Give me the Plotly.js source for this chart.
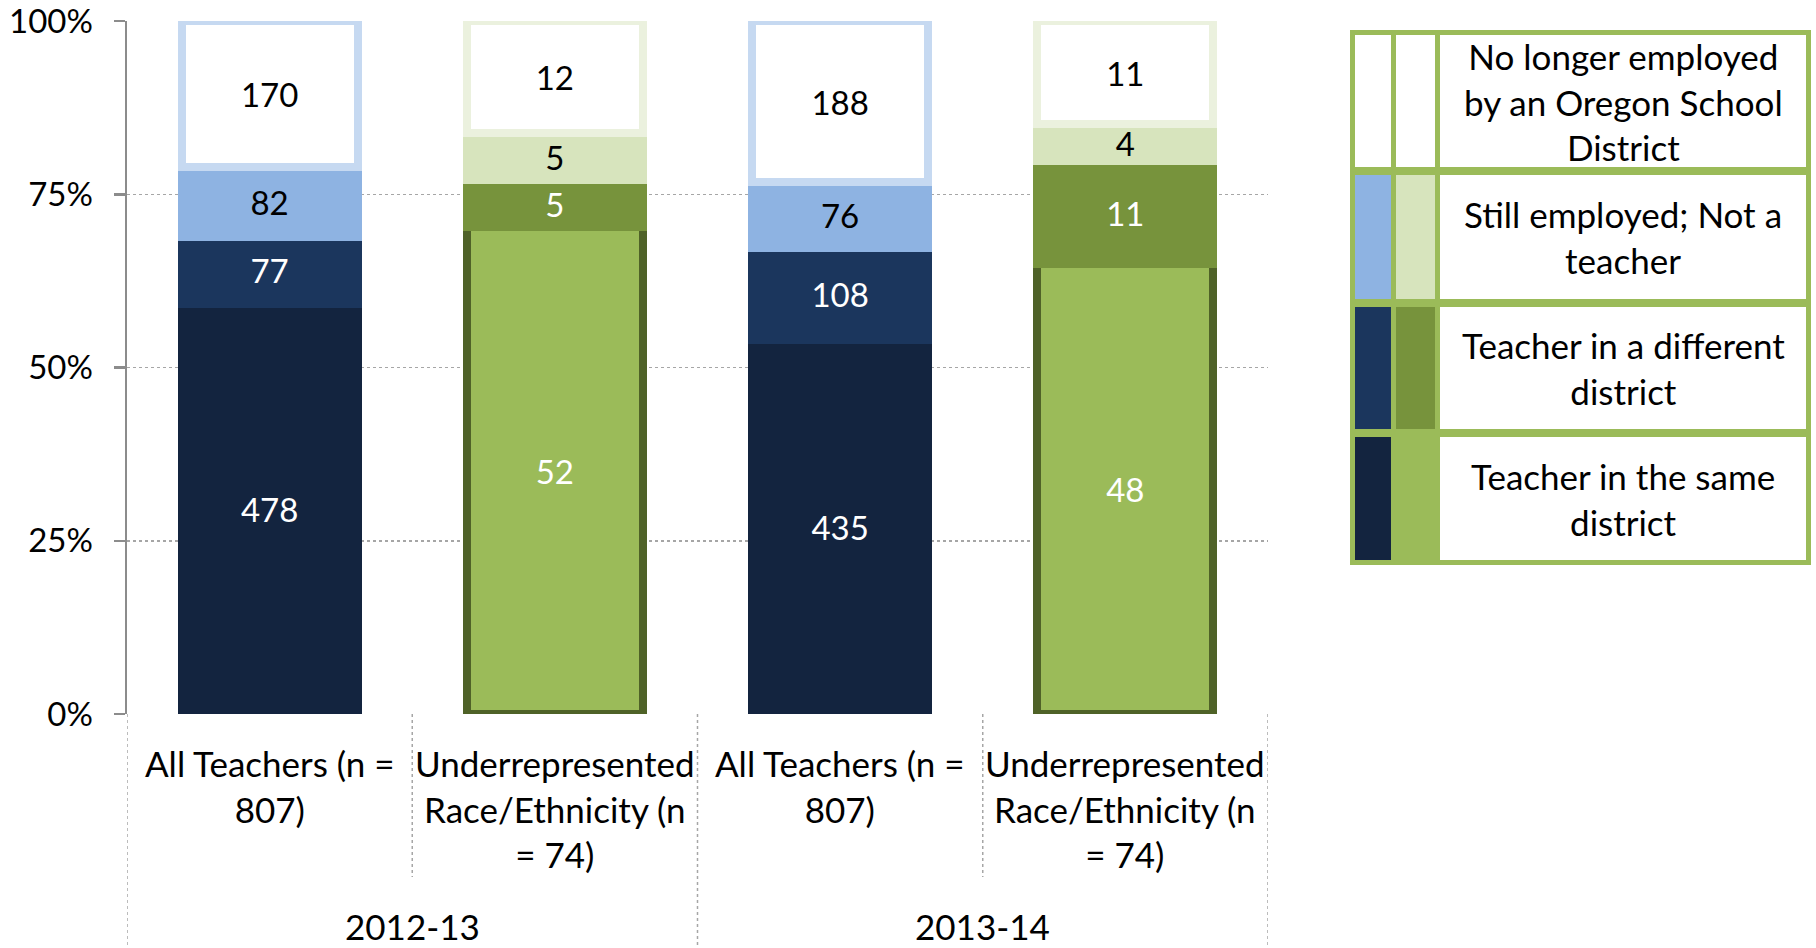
<!DOCTYPE html>
<html>
<head>
<meta charset="utf-8">
<script src="https://cdn.plot.ly/plotly-3.0.1.min.js"></script>
<style>html,body{margin:0;padding:0;background:#fff;}#chart{width:1816px;height:948px;}</style>
</head>
<body>
<div id="chart"></div>
<script>
// ---------- DATA ----------
const groupLabels = ["2012-13", "2013-14"];
const categoryLabels = [
  "All Teachers (n =<br>807)",
  "Underrepresented<br>Race/Ethnicity (n<br>= 74)",
  "All Teachers (n =<br>807)",
  "Underrepresented<br>Race/Ethnicity (n<br>= 74)"
];
const seriesNames = [
  "Teacher in the same<br>district",
  "Teacher in a different<br>district",
  "Still employed; Not a<br>teacher",
  "No longer employed<br>by an Oregon School<br>District"
];
const sameDistrict      = [478, 52, 435, 48];
const differentDistrict = [77, 5, 108, 11];
const stillEmployed     = [82, 5, 76, 4];
const noLonger          = [170, 12, 188, 11];
const seriesValues = [sameDistrict, differentDistrict, stillEmployed, noLonger];
const yTickVals = [0, 25, 50, 75, 100];
const yTickText = ["0%", "25%", "50%", "75%", "100%"];

// ---------- STYLE ----------
const FONT = "Lato, 'Open Sans', sans-serif";
const blueFill  = ["#13243f", "#1b365d", "#8eb3e2", "#ffffff"];
const blueLine  = ["#13243f", "#1b365d", "#8eb3e2", "#c6d9f1"];
const greenFill = ["#9bbb59", "#77933c", "#d7e4bd", "#ffffff"];
const greenLine = ["#4f6228", "#77933c", "#d7e4bd", "#ebf1de"];
const textCol   = ["#ffffff", "#ffffff", "#000000", "#000000"];
const isGreen = [false, true, false, true];

const L = 127, T = 21, W = 1141, H = 693;
const px = x => (x - L) / W;
const py = y => (T + H - y) / H;

const xIdx = categoryLabels.map((_, i) => i);

const traces = seriesValues.map((vals, s) => ({
  type: "bar",
  name: seriesNames[s],
  x: xIdx,
  y: vals,
  text: vals.map(String),
  textposition: "inside",
  insidetextanchor: "middle",
  textangle: 0,
  textfont: { family: FONT, size: 33, color: textCol[s] },
  width: 0.617,
  marker: {
    color: xIdx.map(i => isGreen[i] ? greenFill[s] : blueFill[s]),
    line: { width: 8, color: xIdx.map(i => isGreen[i] ? greenLine[s] : blueLine[s]) }
  },
  hoverinfo: "none",
  showlegend: false
}));

const shapes = [];
const annotations = [];
const divColor = "#a6a6a6";
// group dividers
[-0.5, 1.5, 3.5].forEach(x => shapes.push({
  type: "line", xref: "x", yref: "paper", x0: x, x1: x, y0: 0, y1: py(948),
  line: { color: divColor, width: 1.5, dash: "dot" }
}));
// category dividers
[0.5, 2.5].forEach(x => shapes.push({
  type: "line", xref: "x", yref: "paper", x0: x, x1: x, y0: 0, y1: py(877),
  line: { color: divColor, width: 1.5, dash: "dot" }
}));
// category labels
categoryLabels.forEach((lab, i) => annotations.push({
  xref: "x", yref: "paper", x: i, y: py(740), yanchor: "top", xanchor: "center",
  text: lab, showarrow: false, align: "center",
  font: { family: FONT, size: 35, color: "#000" }
}));
// group labels
groupLabels.forEach((lab, g) => annotations.push({
  xref: "x", yref: "paper", x: g * 2 + 0.5, y: py(926), yanchor: "middle", xanchor: "center",
  text: lab, showarrow: false,
  font: { family: FONT, size: 35, color: "#000" }
}));

// legend (table style)
shapes.push({ type: "rect", xref: "paper", yref: "paper",
  x0: px(1350), x1: px(1811), y0: py(30), y1: py(565),
  fillcolor: "#9bbb59", line: { width: 0 } });
const rows = [[437, 560], [307, 429], [175, 299], [35, 167]]; // bottom series first
const cols = [[1355, 1391], [1396, 1435], [1440, 1806]];
seriesNames.forEach((name, s) => {
  const [ry0, ry1] = rows[s];
  const fills = [blueFill[s], greenFill[s], "#ffffff"];
  cols.forEach(([cx0, cx1], c) => shapes.push({
    type: "rect", xref: "paper", yref: "paper",
    x0: px(cx0), x1: px(cx1), y0: py(ry0), y1: py(ry1),
    fillcolor: fills[c], line: { width: 0 }
  }));
  annotations.push({
    xref: "paper", yref: "paper", x: px(1623), y: py((ry0 + ry1) / 2),
    xanchor: "center", yanchor: "middle", text: name, showarrow: false, align: "center",
    font: { family: FONT, size: 35, color: "#000" }
  });
});

const layout = {
  width: 1816, height: 948,
  margin: { l: L, r: 1816 - L - W, t: T, b: 948 - T - H, pad: 0 },
  paper_bgcolor: "#fff", plot_bgcolor: "#fff",
  barmode: "stack", barnorm: "percent",
  showlegend: false,
  font: { family: FONT, color: "#000" },
  xaxis: { range: [-0.5, 3.5], showticklabels: false, showgrid: false, zeroline: false,
           showline: false, ticks: "", fixedrange: true },
  yaxis: { range: [0, 100], tickvals: yTickVals, ticktext: yTickText,
           ticks: "outside", ticklen: 11, tickwidth: 2.5, tickcolor: "#8c8c8c",
           showline: true, linecolor: "#8c8c8c", linewidth: 2.5,
           showgrid: true, gridcolor: "#a6a6a6", griddash: "dot", gridwidth: 1.5,
           zeroline: false, ticklabelstandoff: 14, ticklabeloverflow: "allow",
           tickfont: { family: FONT, size: 33, color: "#000" } },
  uniformtext: { mode: "show", minsize: 33 },
  shapes: shapes,
  annotations: annotations
};

Plotly.newPlot("chart", traces, layout, { staticPlot: true, displayModeBar: false });
</script>
</body>
</html>
